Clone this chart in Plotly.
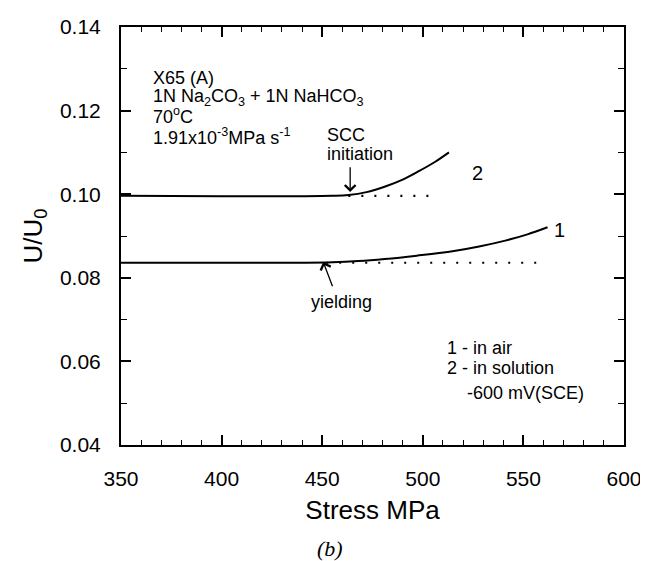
import plotly.graph_objects as go

# ---- data ----
stress_air = [350, 400, 440, 455, 468, 481, 497, 514, 528, 541, 552, 562]
u_air = [0.0836, 0.0836, 0.0836, 0.0837, 0.0840, 0.0845, 0.0853, 0.0863, 0.0875, 0.0889, 0.0904, 0.0921]

stress_sol = [350, 400, 440, 455, 463, 472, 481, 490, 498, 506, 513]
u_sol = [0.0996, 0.0995, 0.0995, 0.0996, 0.0998, 0.1005, 0.1018, 0.1035, 0.1055, 0.1077, 0.1100]

base_air_x = [452, 561]
base_air_y = [0.0836, 0.0836]
base_sol_x = [463, 508]
base_sol_y = [0.0996, 0.0996]

x_ticks = [350, 400, 450, 500, 550, 600]
y_ticks = [0.04, 0.06, 0.08, 0.10, 0.12, 0.14]

FONT = "Liberation Sans, Arial, sans-serif"
L, R, T, B = 113, 32, 19, 124
W, H = 648, 561
pw, ph = W - L - R, H - T - B

fig = go.Figure()
fig.add_trace(go.Scatter(x=stress_air, y=u_air, mode="lines", line=dict(color="black", width=2, shape="spline"), showlegend=False))
fig.add_trace(go.Scatter(x=stress_sol, y=u_sol, mode="lines", line=dict(color="black", width=2, shape="spline"), showlegend=False))
fig.add_trace(go.Scatter(x=base_air_x, y=base_air_y, mode="lines", line=dict(color="black", width=2.2, dash="2px,11px"), showlegend=False))
fig.add_trace(go.Scatter(x=base_sol_x, y=base_sol_y, mode="lines", line=dict(color="black", width=2.2, dash="2px,11px"), showlegend=False))

ann = []
tf = dict(family=FONT, size=18, color="black")
lines = [("X65 (A)", 0.1279),
         ("1N Na<sub>2</sub>CO<sub>3</sub> + 1N NaHCO<sub>3</sub>", 0.1231),
         ("70<sup>o</sup>C", 0.1188),
         ("1.91x10<sup>-3</sup>MPa s<sup>-1</sup>", 0.1138)]
for t, yv in lines:
    ann.append(dict(x=365, y=yv, text=t, showarrow=False, xanchor="left", yanchor="middle", font=tf))

ann.append(dict(x=451.5, y=0.1141, text="SCC", showarrow=False, xanchor="left", yanchor="middle", font=tf))
ann.append(dict(x=451.5, y=0.1095, text="initiation", showarrow=False, xanchor="left", yanchor="middle", font=tf))
ann.append(dict(x=463.9, y=0.1005, ax=463.9, ay=0.1068, axref="x", ayref="y", text="", showarrow=True,
                arrowhead=4, arrowsize=1.6, arrowwidth=1.3, arrowcolor="black"))
ann.append(dict(x=450.5, y=0.0838, ax=455.4, ay=0.0776, axref="x", ayref="y", text="", showarrow=True,
                arrowhead=4, arrowsize=1.6, arrowwidth=1.3, arrowcolor="black"))
ann.append(dict(x=459.4, y=0.0742, text="yielding", showarrow=False, xanchor="center", yanchor="middle", font=tf))
ann.append(dict(x=527.2, y=0.1051, text="2", showarrow=False, xanchor="center", yanchor="middle", font=dict(family=FONT, size=20, color="black")))
ann.append(dict(x=567.8, y=0.0914, text="1", showarrow=False, xanchor="center", yanchor="middle", font=dict(family=FONT, size=20, color="black")))
ann.append(dict(x=510.9, y=0.0632, text="1 - in air", showarrow=False, xanchor="left", yanchor="middle", font=tf))
ann.append(dict(x=510.9, y=0.0584, text="2 - in solution", showarrow=False, xanchor="left", yanchor="middle", font=tf))
ann.append(dict(x=520.8, y=0.0524, text="-600 mV(SCE)", showarrow=False, xanchor="left", yanchor="middle", font=tf))
ann.append(dict(x=(322 - L) / pw, y=(H - B - 540) / ph, xref="paper", yref="paper", text="<i>(b)</i>", showarrow=False,
                xanchor="center", yanchor="middle",
                font=dict(family="Liberation Serif, Times New Roman, serif", size=22, color="black")))

fig.update_layout(annotations=ann)

axis_common = dict(showline=True, linecolor="black", linewidth=2, mirror="ticks",
                   ticks="inside", ticklen=10, tickwidth=1.5, tickcolor="black",
                   showgrid=False, zeroline=False,
                   tickfont=dict(family=FONT, size=21, color="black"))

fig.update_xaxes(range=[350, 600], tickvals=x_ticks, ticktext=[str(v) for v in x_ticks],
                 minor=dict(dtick=10, ticks="inside", ticklen=5, tickwidth=1.2, tickcolor="black", showgrid=False),
                 title=dict(text="Stress MPa", font=dict(family=FONT, size=26, color="black"), standoff=12),
                 ticklabelstandoff=14, **axis_common)
fig.update_yaxes(range=[0.04, 0.14], tickvals=y_ticks, ticktext=[f"{v:.2f}" for v in y_ticks],
                 minor=dict(dtick=0.01, ticks="inside", ticklen=6, tickwidth=1.2, tickcolor="black", showgrid=False),
                 title=dict(text="U/U<sub>0</sub>", font=dict(family=FONT, size=26, color="black"), standoff=10),
                 ticklabelstandoff=14, **axis_common)

fig.update_layout(width=W, height=H, margin=dict(l=L, r=R, t=T, b=B, autoexpand=False),
                  plot_bgcolor="white", paper_bgcolor="white")

fig.write_html("out.html")
